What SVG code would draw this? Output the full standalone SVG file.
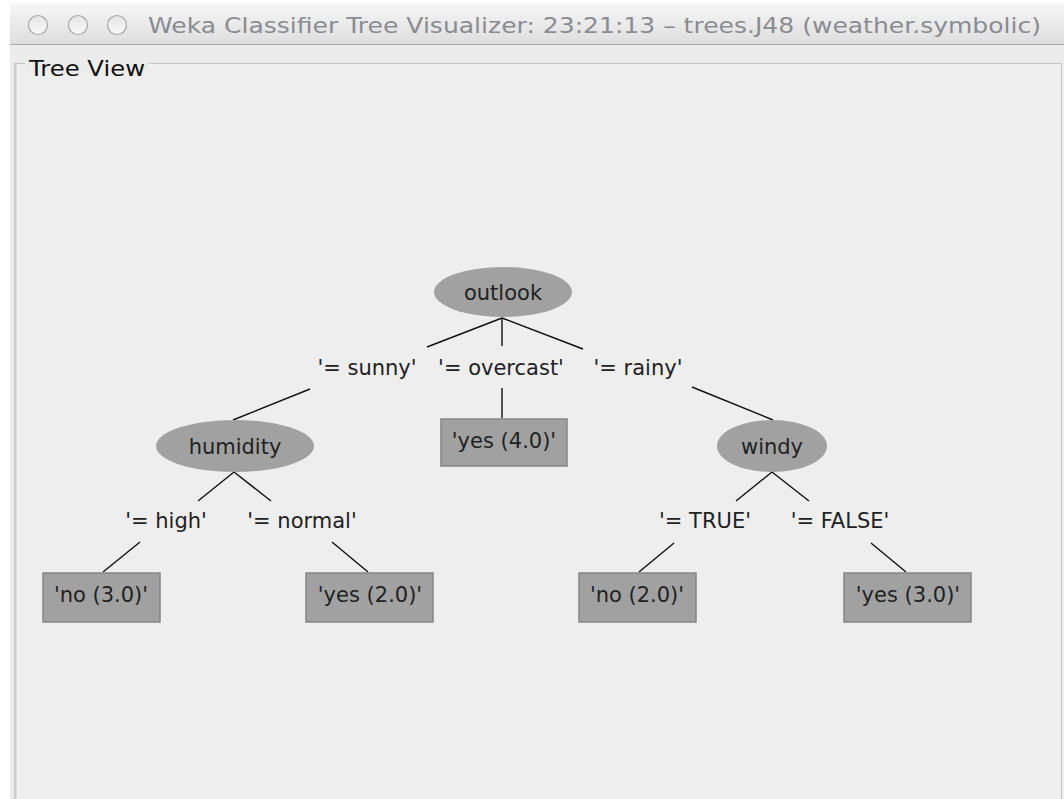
<svg xmlns="http://www.w3.org/2000/svg" width="1064" height="799" viewBox="0 0 1064 799">
  <defs>
    <linearGradient id="titlebar" x1="0" y1="0" x2="0" y2="1">
      <stop offset="0" stop-color="#f7f7f7"/>
      <stop offset="1" stop-color="#dedede"/>
    </linearGradient>
    <linearGradient id="btn" x1="0" y1="0" x2="0" y2="1">
      <stop offset="0" stop-color="#e4e4e4"/>
      <stop offset="1" stop-color="#fafafa"/>
    </linearGradient>
    <style>
      .lbl { font-family: "DejaVu Sans", "Liberation Sans", sans-serif; font-size: 21px; fill: #222222; text-anchor: middle; }
      .split { fill: #a1a1a1; stroke: none; }
      .leaf { fill: #a1a1a1; stroke: #858585; stroke-width: 1.5; }
      .edge { stroke: #111111; stroke-width: 1.4; fill: none; }
      .tbtn { fill: url(#btn); stroke: #a8a8a8; stroke-width: 1.2; }
    </style>
  </defs>

  <!-- page and window background -->
  <rect x="0" y="0" width="1064" height="799" fill="#ffffff"/>
  <rect x="10" y="3" width="1054" height="796" fill="#ececec"/>

  <!-- title bar -->
  <rect x="10" y="3" width="1054" height="41" fill="url(#titlebar)"/>
  <line x1="10" y1="44.5" x2="1064" y2="44.5" stroke="#a9a9a9" stroke-width="1"/>
  <circle class="tbtn" cx="38" cy="25" r="9.5"/>
  <circle class="tbtn" cx="78" cy="25" r="9.5"/>
  <circle class="tbtn" cx="117" cy="25" r="9.5"/>
  <text x="148" y="33" font-family="DejaVu Sans, 'Liberation Sans', sans-serif" font-size="22" fill="#8a8c92" textLength="893" lengthAdjust="spacingAndGlyphs">Weka Classifier Tree Visualizer: 23:21:13 – trees.J48 (weather.symbolic)</text>

  <!-- titled panel border -->
  <rect x="14.5" y="63.5" width="1047" height="760" fill="#eeeeee" stroke="#c6c6c6" stroke-width="1"/>
  <line x1="15.5" y1="64" x2="15.5" y2="799" stroke="#cfcfcf" stroke-width="2"/>
  <rect x="25" y="55" width="124" height="18" fill="#ececec"/>
  <text x="29" y="76" font-family="DejaVu Sans, 'Liberation Sans', sans-serif" font-size="21" fill="#111111" textLength="116" lengthAdjust="spacingAndGlyphs">Tree View</text>

  <!-- connectors -->
  <g id="connectors">
    <line class="edge" x1="502" y1="318" x2="427" y2="347"/>
    <line class="edge" x1="502" y1="318" x2="502" y2="346"/>
    <line class="edge" x1="502" y1="318" x2="583" y2="349"/>
    <line class="edge" x1="310" y1="389" x2="233" y2="420"/>
    <line class="edge" x1="502" y1="388" x2="502" y2="418"/>
    <line class="edge" x1="692" y1="387" x2="773" y2="420"/>
    <line class="edge" x1="234" y1="472" x2="198" y2="501"/>
    <line class="edge" x1="234" y1="472" x2="271" y2="501"/>
    <line class="edge" x1="772" y1="472" x2="736" y2="501"/>
    <line class="edge" x1="772" y1="472" x2="809" y2="501"/>
    <line class="edge" x1="140" y1="542" x2="103" y2="572"/>
    <line class="edge" x1="332" y1="542" x2="368" y2="572"/>
    <line class="edge" x1="674" y1="543" x2="639" y2="572"/>
    <line class="edge" x1="871" y1="543" x2="906" y2="572"/>
  </g>

  <!-- branch labels -->
  <g id="branch-labels">
    <text class="lbl" x="367" y="375">'= sunny'</text>
    <text class="lbl" x="501" y="375">'= overcast'</text>
    <text class="lbl" x="638" y="375">'= rainy'</text>
    <text class="lbl" x="166" y="528">'= high'</text>
    <text class="lbl" x="302" y="528">'= normal'</text>
    <text class="lbl" x="705" y="528">'= TRUE'</text>
    <text class="lbl" x="840" y="528">'= FALSE'</text>
  </g>

  <!-- split nodes -->
  <g id="node-outlook">
    <ellipse class="split" cx="503" cy="292" rx="69" ry="25"/>
    <text class="lbl" x="503" y="300">outlook</text>
  </g>
  <g id="node-humidity">
    <ellipse class="split" cx="235" cy="446" rx="79" ry="26"/>
    <text class="lbl" x="235" y="454">humidity</text>
  </g>
  <g id="node-windy">
    <ellipse class="split" cx="772" cy="446" rx="55" ry="26"/>
    <text class="lbl" x="772" y="454">windy</text>
  </g>

  <!-- leaf nodes -->
  <g id="leaf-yes-4">
    <rect class="leaf" x="441" y="419" width="126" height="47"/>
    <text class="lbl" x="504" y="448">'yes (4.0)'</text>
  </g>
  <g id="leaf-no-3">
    <rect class="leaf" x="43" y="573" width="117" height="49"/>
    <text class="lbl" x="101" y="602">'no (3.0)'</text>
  </g>
  <g id="leaf-yes-2">
    <rect class="leaf" x="306" y="573" width="127" height="49"/>
    <text class="lbl" x="370" y="602">'yes (2.0)'</text>
  </g>
  <g id="leaf-no-2">
    <rect class="leaf" x="579" y="573" width="117" height="49"/>
    <text class="lbl" x="637" y="602">'no (2.0)'</text>
  </g>
  <g id="leaf-yes-3">
    <rect class="leaf" x="844" y="573" width="127" height="49"/>
    <text class="lbl" x="908" y="602">'yes (3.0)'</text>
  </g>
</svg>
